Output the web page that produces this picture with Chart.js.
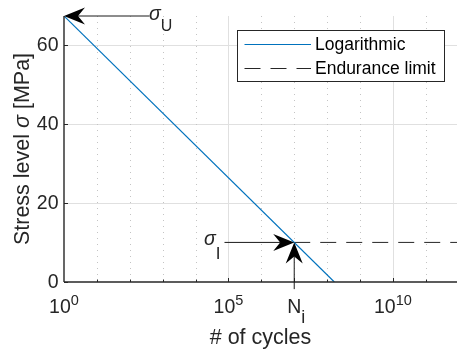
<!DOCTYPE html>
<html>
<head>
<meta charset="utf-8">
<script src="https://cdn.jsdelivr.net/npm/chart.js@4.4.0/dist/chart.umd.min.js"></script>
<style>
  body { margin: 0; background: #fff; }
  #wrap { width: 457px; height: 352px; }
</style>
</head>
<body>
<div id="wrap"><canvas id="miGrafico" width="457" height="352"></canvas></div>
<script>
// datos
const logCycles = [1, 1.66e8];
const logStress = [67.2, 0];
const limitCycles = [1e7, 8.9e11];
const limitStress = [10, 10];
const yTicks = [0, 20, 40, 60];
const xTickExp = [0, 5, 10];
const sigmaU = 67.2;
const sigmaI = 10;
const Ni = 1e7;

const xMin = 1, xMax = 8.9e11, yMin = 0, yMax = 67.2;

const TXT = '#262626';
const FAM = '"Liberation Sans", Arial, sans-serif';
const f = (size, style) => (style ? style + ' ' : '') + size + 'px ' + FAM;

const toXY = (xs, ys) => xs.map((v, i) => ({ x: v, y: ys[i] }));

function segment(ctx, x0, y0, x1, y1) {
    ctx.beginPath();
    ctx.moveTo(x0, y0);
    ctx.lineTo(x1, y1);
    ctx.stroke();
}

// flecha estilo matlab (vback2)
function arrow(ctx, x0, y0, x1, y1) {
    const L = 21, W = 8.5, back = 14;
    const dx = x1 - x0, dy = y1 - y0;
    const len = Math.hypot(dx, dy);
    const ux = dx / len, uy = dy / len;
    const px = -uy, py = ux;
    ctx.save();
    ctx.strokeStyle = '#1a1a1a';
    ctx.lineWidth = 1;
    segment(ctx, x0, y0, x1 - ux * back, y1 - uy * back);
    ctx.fillStyle = '#000';
    ctx.beginPath();
    ctx.moveTo(x1, y1);
    ctx.lineTo(x1 - ux * L + px * W, y1 - uy * L + py * W);
    ctx.lineTo(x1 - ux * back, y1 - uy * back);
    ctx.lineTo(x1 - ux * L - px * W, y1 - uy * L - py * W);
    ctx.closePath();
    ctx.fill();
    ctx.beginPath();
    ctx.restore();
}

// texto con subindice / superindice
function richText(ctx, parts, x, y, align) {
    let total = 0;
    parts.forEach(p => { ctx.font = p.font; total += ctx.measureText(p.t).width; });
    let cx = align === 'center' ? x - total / 2 : (align === 'right' ? x - total : x);
    parts.forEach(p => {
        ctx.font = p.font;
        ctx.textAlign = 'left';
        ctx.textBaseline = 'alphabetic';
        ctx.fillText(p.t, cx, y + (p.dy || 0));
        cx += ctx.measureText(p.t).width;
    });
}

const estilo = {
    id: 'estilo',
    beforeDatasetsDraw(chart) {
        const { ctx, chartArea: a, scales: { x, y } } = chart;
        ctx.save();
        // rejilla horizontal
        ctx.strokeStyle = '#e0e0e0';
        ctx.lineWidth = 1;
        yTicks.forEach(v => {
            if (v === 0) return;
            const py = Math.round(y.getPixelForValue(v)) + 0.5;
            segment(ctx, a.left, py, a.right, py);
        });
        // rejilla vertical
        for (let e = 1; e <= 11; e++) {
            const px = Math.round(x.getPixelForValue(Math.pow(10, e))) + 0.5;
            if (xTickExp.includes(e)) {
                ctx.setLineDash([]);
                ctx.strokeStyle = '#e0e0e0';
            } else {
                ctx.setLineDash([1, 5]);
                ctx.strokeStyle = '#c4c4c4';
            }
            segment(ctx, px, a.top, px, a.bottom);
        }
        ctx.beginPath();
        ctx.restore();
    },
    afterDatasetsDraw(chart) {
        const { ctx, chartArea: a, scales: { x, y } } = chart;
        ctx.save();

        // ejes
        ctx.strokeStyle = TXT;
        ctx.lineWidth = 1.4;
        segment(ctx, a.left, a.top, a.left, a.bottom);
        segment(ctx, a.left, a.bottom, a.right, a.bottom);

        // marcas del eje x
        ctx.lineWidth = 1;
        for (let e = 1; e <= 11; e++) {
            const px = Math.round(x.getPixelForValue(Math.pow(10, e))) + 0.5;
            const big = xTickExp.includes(e) || e === 7;
            segment(ctx, px, a.bottom, px, a.bottom - (big ? 4 : 2.5));
        }
        yTicks.forEach(v => {
            const py = Math.round(y.getPixelForValue(v)) + 0.5;
            segment(ctx, a.left, py, a.left + 4, py);
        });

        // etiquetas eje y
        ctx.fillStyle = TXT;
        ctx.font = f(19.5);
        ctx.textAlign = 'right';
        ctx.textBaseline = 'middle';
        yTicks.forEach(v => ctx.fillText(String(v), a.left - 5.5, y.getPixelForValue(v) + 1));

        // etiquetas eje x
        xTickExp.forEach(e => {
            richText(ctx, [
                { t: '10', font: f(19.5) },
                { t: String(e), font: f(14.5), dy: -8.5 }
            ], x.getPixelForValue(Math.pow(10, e)), a.bottom + 31, 'center');
        });
        richText(ctx, [
            { t: 'N', font: f(19.5) },
            { t: 'i', font: f(18), dy: 10 }
        ], x.getPixelForValue(Ni) + 2, a.bottom + 31, 'center');

        // titulos de ejes
        ctx.fillStyle = TXT;
        ctx.font = f(21.5);
        ctx.textAlign = 'center';
        ctx.textBaseline = 'alphabetic';
        ctx.fillText('# of cycles', (a.left + a.right) / 2, 344);

        ctx.save();
        ctx.translate(28.5, (a.top + a.bottom) / 2);
        ctx.rotate(-Math.PI / 2);
        richText(ctx, [
            { t: 'Stress level ', font: f(21.5) },
            { t: 'σ', font: f(21.5, 'italic') },
            { t: ' [MPa]', font: f(21.5) }
        ], 0, 0, 'center');
        ctx.restore();

        // anotaciones con flechas
        const yU = y.getPixelForValue(sigmaU);
        arrow(ctx, x.getPixelForValue(Math.pow(10, 2.6)), yU, x.getPixelForValue(1), yU);
        ctx.fillStyle = TXT;
        richText(ctx, [
            { t: 'σ', font: f(19.5, 'italic') },
            { t: 'U', font: f(16), dy: 11 }
        ], 149, yU + 4, 'left');

        const xN = x.getPixelForValue(Ni), yI = y.getPixelForValue(sigmaI);
        arrow(ctx, x.getPixelForValue(Math.pow(10, 4.88)), yI, xN, yI);
        arrow(ctx, xN, y.getPixelForValue(-1.8), xN, yI);
        ctx.fillStyle = TXT;
        richText(ctx, [
            { t: 'σ', font: f(19.5, 'italic') },
            { t: 'I', font: f(17), dy: 14 }
        ], 204, yI + 3, 'left');

        // leyenda
        const lx = 237.5, ly = 30.5, lw = 207, lh = 51;
        ctx.fillStyle = '#fff';
        ctx.fillRect(lx, ly, lw, lh);
        ctx.strokeStyle = TXT;
        ctx.lineWidth = 1;
        ctx.strokeRect(lx, ly, lw, lh);
        const items = chart.data.datasets;
        items.forEach((ds, i) => {
            const yy = 44.5 + i * 24;
            ctx.strokeStyle = ds.borderColor;
            ctx.lineWidth = 1;
            ctx.setLineDash(ds.borderDash || []);
            segment(ctx, 244.5, yy, 311, yy);
            ctx.setLineDash([]);
            ctx.fillStyle = '#000';
            ctx.font = f(17.5);
            ctx.textAlign = 'left';
            ctx.textBaseline = 'middle';
            ctx.fillText(ds.label, 315, yy + 1);
        });

        ctx.restore();
    }
};

const ctx = document.getElementById('miGrafico').getContext('2d');
const myChart = new Chart(ctx, {
    type: 'scatter',
    data: {
        datasets: [{
            label: 'Logarithmic',
            data: toXY(logCycles, logStress),
            showLine: true,
            borderColor: '#0072BD',
            borderWidth: 1.2,
            pointRadius: 0
        }, {
            label: 'Endurance limit',
            data: toXY(limitCycles, limitStress),
            showLine: true,
            borderColor: '#262626',
            borderDash: [16, 10],
            borderWidth: 1,
            pointRadius: 0
        }]
    },
    options: {
        responsive: false,
        animation: false,
        layout: { padding: { left: 64, top: 16, right: 0, bottom: 70 } },
        plugins: {
            legend: { display: false },
            tooltip: { enabled: false }
        },
        scales: {
            x: { type: 'logarithmic', min: xMin, max: xMax, display: false },
            y: { type: 'linear', min: yMin, max: yMax, display: false }
        }
    },
    plugins: [estilo]
});
</script>
</body>
</html>
